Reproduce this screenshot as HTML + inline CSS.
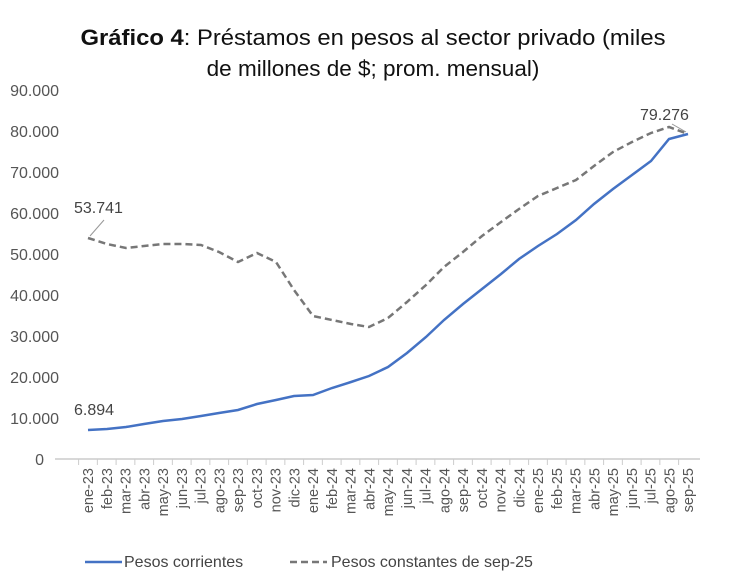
<!DOCTYPE html><html><head><meta charset="utf-8"><style>body{margin:0;background:#fff}svg{display:block}</style></head><body>
<svg width="730" height="573" xmlns="http://www.w3.org/2000/svg" font-family="Liberation Sans, sans-serif">
<text x="373" y="45" font-size="22.5" text-anchor="middle" fill="#111" textLength="585" lengthAdjust="spacingAndGlyphs"><tspan font-weight="bold">Gráfico 4</tspan>: Préstamos en pesos al sector privado (miles</text>
<text x="373" y="76" font-size="22.5" text-anchor="middle" fill="#111">de millones de $; prom. mensual)</text>
<g font-size="16" fill="#555" text-anchor="end">
<text x="59" y="96">90.000</text><text x="59" y="137">80.000</text><text x="59" y="178">70.000</text><text x="59" y="219">60.000</text><text x="59" y="260">50.000</text><text x="59" y="301">40.000</text><text x="59" y="342">30.000</text><text x="59" y="383">20.000</text><text x="59" y="424">10.000</text><text x="44" y="465">0</text></g>
<line x1="55" y1="459" x2="700" y2="459" stroke="#ccc" stroke-width="1.5"/>
<g id="ticks" stroke="#ccc"></g>
<polyline fill="none" stroke="#4472c4" stroke-width="2.5" points="88,430 107,429 126,427 144,424 163,421 182,419 201,416 219,413 238,410 257,404 276,400 294,396 313,395 332,388 351,382 369,376 388,367 407,353 426,337 444,320 463,304 482,289 501,274 519,259 538,246 557,234 576,220 594,204 613,189 632,175 651,161 669,139 688,134"/>
<polyline fill="none" stroke="#777" stroke-width="2.5" stroke-dasharray="7,4" points="88,238 107,244 126,248 144,246 163,244 182,244 201,245 219,252 238,262 257,253 276,262 294,290 313,316 332,320 351,324 369,327 388,318 407,302 426,285 444,267 463,252 482,236 501,222 519,209 538,196 557,188 576,180 594,166 613,152 632,142 651,133 669,127 688,134"/>
<line x1="104" y1="220" x2="90" y2="236" stroke="#999"/>
<line x1="672" y1="124" x2="686" y2="132" stroke="#999"/>
<text x="74" y="213" font-size="16" fill="#444">53.741</text>
<text x="74" y="415" font-size="16" fill="#444">6.894</text>
<text x="640" y="120" font-size="16" fill="#444">79.276</text>
<g id="xl" font-size="14.5" fill="#555"></g>
<line x1="85" y1="562" x2="122" y2="562" stroke="#4472c4" stroke-width="2.5"/>
<text x="124" y="567" font-size="16" fill="#444">Pesos corrientes</text>
<line x1="290" y1="562" x2="327" y2="562" stroke="#777" stroke-width="2.5" stroke-dasharray="7,4"/>
<text x="331" y="567" font-size="16" fill="#444">Pesos constantes de sep-25</text>
<script>
var m=["ene","feb","mar","abr","may","jun","jul","ago","sep","oct","nov","dic"],g=document.getElementById("xl"),t=document.getElementById("ticks"),ns="http://www.w3.org/2000/svg";
for(var i=0;i<33;i++){var x=88+i*18.75,y=23+Math.floor(i/12);
var l=document.createElementNS(ns,"line");l.setAttribute("x1",x-9.4);l.setAttribute("x2",x-9.4);l.setAttribute("y1",459);l.setAttribute("y2",465);t.appendChild(l);
var e=document.createElementNS(ns,"text");e.setAttribute("transform","translate("+(x+5)+",468) rotate(-90)");e.setAttribute("text-anchor","end");e.textContent=m[i%12]+"-"+y;g.appendChild(e);}
</script>
</svg></body></html>
